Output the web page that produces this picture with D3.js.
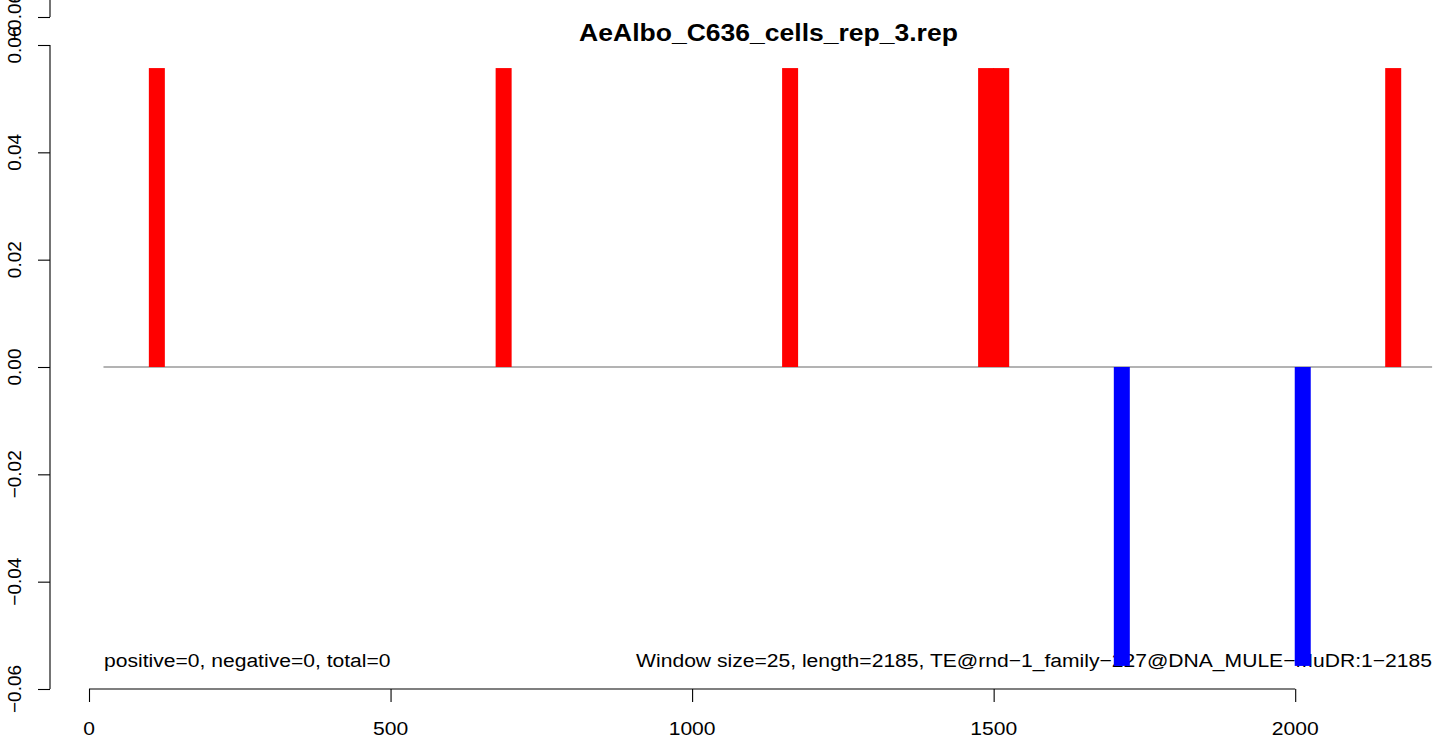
<!DOCTYPE html>
<html>
<head>
<meta charset="utf-8">
<script src="https://cdn.jsdelivr.net/npm/d3@7"></script>
<style>
  html, body { margin: 0; padding: 0; background: #fff; }
  svg { display: block; }
  text { font-family: "Liberation Sans", Arial, sans-serif; }
</style>
</head>
<body>
<svg id="chart" width="1439" height="740"></svg>
<script>
// ---- data ----
const title = "AeAlbo_C636_cells_rep_3.rep";
const windowSize = 25;
const seqLength = 2185;
// window centers of bars (sense / positive strand)
const posCenters = [112.5, 687.5, 1162.5, 1487.5, 1512.5, 2162.5];
const posValues  = [0.0557, 0.0557, 0.0557, 0.0557, 0.0557, 0.0557];
// antisense / negative strand
const negCenters = [1712.5, 2012.5];
const negValues  = [-0.0557, -0.0557];
const xTicks = [0, 500, 1000, 1500, 2000];
const yTicks = [-0.06, -0.04, -0.02, 0.00, 0.02, 0.04, 0.06];
const yTickLabels = ["\u22120.06", "\u22120.04", "\u22120.02", "0.00", "0.02", "0.04", "0.06"];
const prevPanelTicks = [-0.06];
const prevPanelTickLabels = ["\u22120.06"];
const zeroLineExtent = [24, 2227];
const leftNote = "positive=0, negative=0, total=0";
const rightNote = "Window size=25, length=2185, TE@rnd\u22121_family\u2212227@DNA_MULE\u2212MuDR:1\u22122185";

// ---- layout ----
const svg = d3.select("#chart");
const x = d3.scaleLinear().domain([0, 2000]).range([89, 1295.2]);
const y = d3.scaleLinear().domain([-0.06, 0.06]).range([689, 45]);
const panelShift = 672; // previous panel (cropped at top)
const yPrev = d3.scaleLinear().domain([-0.06, 0.06]).range([689 - panelShift, 45 - panelShift]);
const sx = 1.11;       // horizontal stretch of the original raster
const fs = 19;
const barW = 16;
const axisX = 50;

function hText(g, tx, ty, str, anchor, size, weight) {
  return g.append("text")
    .attr("transform", `translate(${tx},${ty}) scale(${sx},1)`)
    .attr("text-anchor", anchor)
    .attr("font-size", size)
    .attr("font-weight", weight || "normal")
    .attr("fill", "#000")
    .text(str);
}

// zero line
svg.append("line")
  .attr("x1", x(zeroLineExtent[0])).attr("x2", x(zeroLineExtent[1]))
  .attr("y1", y(0)).attr("y2", y(0))
  .attr("stroke", "#9a9a9a").attr("stroke-width", 1.3);

// notes (drawn before bars; bars overlap them)
hText(svg, 104, 667, leftNote, "start", fs);
hText(svg, 1432, 667, rightNote, "end", fs);

// bars
svg.append("g").selectAll("rect.pos")
  .data(posCenters.map((c, i) => ({c, v: posValues[i]})))
  .join("rect")
  .attr("x", d => x(d.c) - barW / 2)
  .attr("width", barW)
  .attr("y", d => y(d.v))
  .attr("height", d => y(0) - y(d.v))
  .attr("fill", "#ff0000");

svg.append("g").selectAll("rect.neg")
  .data(negCenters.map((c, i) => ({c, v: negValues[i]})))
  .join("rect")
  .attr("x", d => x(d.c) - barW / 2)
  .attr("width", barW)
  .attr("y", y(0))
  .attr("height", d => y(d.v) - y(0))
  .attr("fill", "#0000ff");

// x axis
const xAxis = d3.axisBottom(x).tickValues(xTicks).tickSize(13).tickFormat("");
const gx = svg.append("g").attr("transform", `translate(0,${y(-0.06)})`).call(xAxis);
gx.select(".domain").attr("d", `M${x(xTicks[0])},0H${x(xTicks[xTicks.length - 1])}`);
gx.selectAll("path,line").attr("stroke", "#000").attr("stroke-width", 1.1);
xTicks.forEach(t => hText(svg, x(t), 735, String(t), "middle", fs));

// y axis
const yAxis = d3.axisLeft(y).tickValues(yTicks).tickSize(12).tickFormat("");
const gy = svg.append("g").attr("transform", `translate(${axisX},0)`).call(yAxis);
gy.select(".domain").attr("d", `M0,${y(yTicks[0])}V${y(yTicks[yTicks.length - 1])}`);
gy.selectAll("path,line").attr("stroke", "#000").attr("stroke-width", 1.1);
yTicks.forEach((t, i) => {
  svg.append("text")
    .attr("transform", `translate(21,${y(t)}) rotate(-90)`)
    .attr("text-anchor", "middle")
    .attr("font-size", fs)
    .attr("fill", "#000")
    .text(yTickLabels[i]);
});

// remnant of previous panel's y axis (cropped at the top)
const yAxisPrev = d3.axisLeft(yPrev).tickValues(prevPanelTicks).tickSize(12).tickFormat("");
const gyp = svg.append("g").attr("transform", `translate(${axisX},0)`).call(yAxisPrev);
gyp.select(".domain").attr("d", `M0,${yPrev(-0.06)}V${yPrev(0.06)}`);
gyp.selectAll("path,line").attr("stroke", "#000").attr("stroke-width", 1.1);
prevPanelTicks.forEach((t, i) => {
  svg.append("text")
    .attr("transform", `translate(21,${yPrev(t)}) rotate(-90)`)
    .attr("text-anchor", "middle")
    .attr("font-size", fs)
    .attr("fill", "#000")
    .text(prevPanelTickLabels[i]);
});

// title
hText(svg, 768.5, 41, title, "middle", 23.9, "bold");
</script>
</body>
</html>
